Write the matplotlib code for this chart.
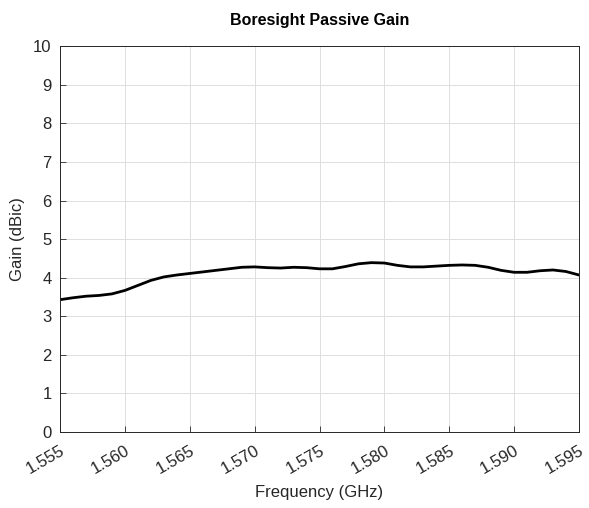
import matplotlib
matplotlib.use("Agg")
import matplotlib.pyplot as plt
import numpy as np

plt.rcParams['font.family'] = ['Liberation Sans', 'DejaVu Sans']

freq_ghz = [1.555, 1.556, 1.557, 1.558, 1.559, 1.560, 1.561, 1.562, 1.563, 1.564,
            1.565, 1.566, 1.567, 1.568, 1.569, 1.570, 1.571, 1.572, 1.573, 1.574,
            1.575, 1.576, 1.577, 1.578, 1.579, 1.580, 1.581, 1.582, 1.583, 1.584,
            1.585, 1.586, 1.587, 1.588, 1.589, 1.590, 1.591, 1.592, 1.593, 1.594,
            1.595]
gain_dbic = [3.43, 3.48, 3.52, 3.54, 3.58, 3.67, 3.80, 3.93, 4.02, 4.07,
             4.11, 4.15, 4.19, 4.23, 4.27, 4.28, 4.26, 4.25, 4.27, 4.26,
             4.23, 4.23, 4.29, 4.36, 4.39, 4.38, 4.32, 4.28, 4.28, 4.30,
             4.32, 4.33, 4.32, 4.27, 4.19, 4.14, 4.14, 4.18, 4.20, 4.16,
             4.07]
xticks = [1.555, 1.560, 1.565, 1.570, 1.575, 1.580, 1.585, 1.590, 1.595]
xtick_labels = ["1.555", "1.560", "1.565", "1.570", "1.575", "1.580", "1.585", "1.590", "1.595"]
yticks = list(range(0, 11))

fig = plt.figure(figsize=(5.89, 5.08), dpi=100)
ax = fig.add_axes([0.102, 0.1496, 0.881, 0.7594])
ax.plot(freq_ghz, gain_dbic, color='black', lw=2)
ax.set_xlim(1.555, 1.595)
ax.set_ylim(0, 10)
ax.set_xticks(xticks)
ax.set_xticklabels(xtick_labels, rotation=30, ha='right', rotation_mode='anchor')
ax.set_yticks(yticks)
ax.tick_params(direction='in', labelsize=12, colors='#262626', length=4, width=0.6)
ax.tick_params(axis='x', pad=8)
ax.tick_params(axis='y', pad=6)
ax.grid(True, color='#dfdfdf', lw=0.7)
ax.set_axisbelow(True)
for s in ax.spines.values():
    s.set_color('#262626')
    s.set_linewidth(0.7)
ax.set_xlabel("Frequency (GHz)", fontsize=12, color='#262626', labelpad=6)
ax.set_ylabel("Gain (dBic)", fontsize=12, color='#262626', labelpad=6)
ax.set_title("Boresight Passive Gain", fontsize=11.5, fontweight='bold', pad=15)
fig.savefig("out.png", dpi=100)
